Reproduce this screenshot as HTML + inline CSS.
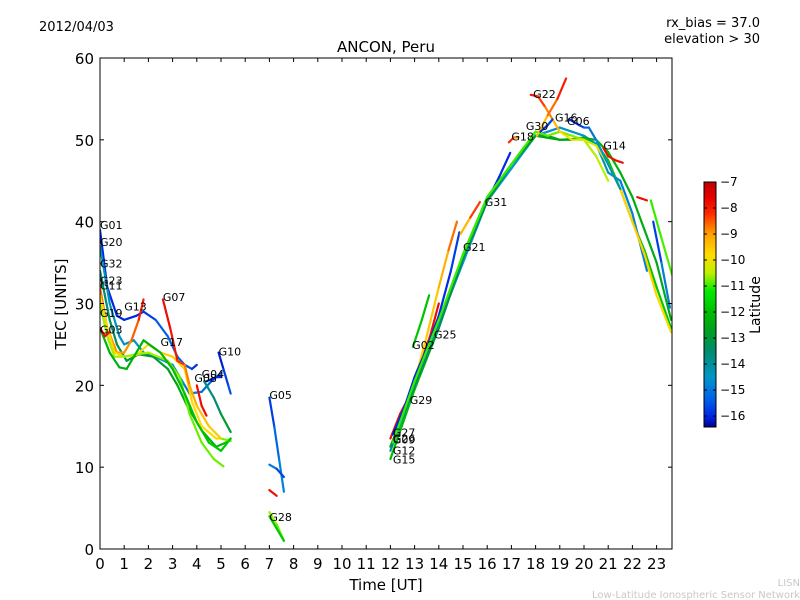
<!DOCTYPE html>
<html><head><meta charset="utf-8"><style>
body{margin:0;background:#fff;}
svg{display:block;font-family:"DejaVu Sans","Liberation Sans",sans-serif;}
</style></head><body>
<svg id="chart" width="800" height="600" viewBox="0 0 800 600">
<rect width="800" height="600" fill="#fff"/>
<text x="39" y="31" font-size="13">2012/04/03</text>
<text x="760" y="27" font-size="13" text-anchor="end">rx_bias = 37.0</text>
<text x="760" y="43" font-size="13" text-anchor="end">elevation &gt; 30</text>
<text x="386" y="52" font-size="15" text-anchor="middle">ANCON, Peru</text>
<text x="386" y="590" font-size="15" text-anchor="middle">Time [UT]</text>
<text x="66" y="304" font-size="15" text-anchor="middle" transform="rotate(-90 66 304)">TEC [UNITS]</text>
<text x="800" y="586" font-size="10" fill="#c8c8c8" text-anchor="end">LISN</text>
<text x="800" y="598" font-size="10" fill="#c8c8c8" text-anchor="end">Low-Latitude Ionospheric Sensor Network</text>
<g id="plot"></g>
<g id="axes"></g>
<g id="cbar"></g>
</svg>
<script>
const xTicks=[0,1,2,3,4,5,6,7,8,9,10,11,12,13,14,15,16,17,18,19,20,21,22,23];
const yTicks=[0,10,20,30,40,50,60];
const cbTicks=[-7,-8,-9,-10,-11,-12,-13,-14,-15,-16];
const trackNames=["G01","G20","G32","G23","G11","G19","G03","G03b","G07","G10","G04","G04b","G08","G05","G05b","G05c","G28","G28b",
"G02","G29","G27","G09","G26","G12","G15","G25","G21","G31","G18","G22","G30","G16","G06","G14","G14b","G-r1","G-r2"];
const trackTimes=[
[0,0.3,0.7,1,1.5,1.8,2.3,2.8,3.2,3.5,3.8,4],
[0,0.4,0.8,1,1.4,1.8,2.5,3,3.5,3.7,4.2,4.6,5],
[0,0.4,0.7,1.1,1.6,2.2,2.8,3.2,3.6,4.2,4.8,5.2,5.4],
[0,0.3,0.7,1,1.3,1.6,1.8],
[0,0.3,0.6,1,1.5,2,2.5,3,3.5,3.8,4.2,4.8,5,5.4],
[0,0.3,0.6,1,1.5,2,2.8,3.3,3.7,4.2,4.7,5.1],
[0,0.4,0.8,1.1,1.4,1.8,2.5,3,3.5,4,4.5,5,5.4],
[0,0.2,0.4],
[2.6,2.9,3.2,3.5,3.7,4,4.5,5],
[4.9,5.1,5.3,5.4],
[4.4,4.8,5],
[4.3,4.7,5,5.4],
[4,4.2,4.4],
[7,7.2,7.4,7.6],
[7,7.3,7.6],
[7,7.3],
[7,7.3,7.6],
[7,7.3,7.6],
[12.93,13.3,13.6],
[12,12.4,12.7,13,13.4,13.64,14.0],
[12,12.5,13,13.5,14,14.4,14.75],
[12.1,12.6,13,13.5,14,14.5,14.85],
[14.9,15.3,15.7],
[12,13,14,15,16,17,17.5,18,18.5,19,19.5,20,20.5,21,21.5,22,22.5,23,23.6],
[12,13,14,15,16,17,18,18.5,19,19.5,20,20.5,21,21.5,22,22.6],
[15.5,16,16.5,16.95],
[12,13,14,15,16,17,18,19,20,20.5,21,21.5,22,22.5,23,23.6],
[12.1,13,14,15,16,17,18,18.5,19,19.5,20,20.5,21],
[16.9,17.1,17.3],
[17.8,18.1,18.4,18.7,19,19.5,20,20.5,21,21.5,22,22.5,23,23.6],
[18.06,18.5,18.9,19.26],
[18.2,18.5,18.7],
[19.4,19.8,20,20.2,20.5,21,21.5],
[20.8,21,21.3,21.6],
[22.2,22.4,22.6],
[22.76,23.2,23.64],
[22.86,23.2,23.55]
];
const trackTec=[
[39,32,28.5,28,28.5,29,28,26,23.5,22.5,22,22.5],
[37,30,26,25,25.5,24,23.2,22.5,20,19,19.2,20.5,21.5],
[34,28,25,23,23.8,23.5,22,20,17.5,14.5,12.5,13,13.5],
[32,27,24,24,25.5,28,30.5],
[31,27,24,23.5,23.7,25,24,23.5,22,18,15,13.5,13.5,13.2],
[30,26,23.5,23.5,23.8,24,23,21,16.5,13,11,10.1],
[27,24,22.2,22,23.5,25.5,24,22,19,15.5,13,12,13.5],
[27,26,26.5],
[30.5,27,23,22.5,20,17.5,15,13.5],
[24,22,20,19],
[20.5,21,21],
[20.5,18.5,16.5,14.3],
[20,17.5,16.3],
[18.5,15,11,7],
[10.3,9.8,8.8],
[7.2,6.5],
[4.5,3,1],
[4,2.5,1],
[24.7,28,31],
[13.5,16.5,18.2,21,24,26,30],
[12.5,16,20.5,26,32,36.5,40],
[14,17.5,21,24.5,28.5,34,38.7],
[38.5,40.5,42.4],
[11,19.5,27,36,43,47,49,50.5,50.5,50,50,50.3,49.5,47.5,44,40,36.5,32,27],
[12,20,27.5,35,42.5,46.5,50.5,51,51.5,51,50.5,49.5,46,45,41,34],
[39,42.5,45.5,48.4],
[12.5,20,27,35.5,42.5,47,50.5,50,50.2,50,48.5,46,43,39,35,28],
[13,20.5,28,36,43,47,51,50.5,51,50.5,50,48,45],
[49.7,50.3,50.3],
[55.5,55.3,54,52.5,51,50,50,49.3,47,44,40,36,31,26.5],
[50.5,53,55,57.5],
[51,51.8,52.5],
[52.5,51.8,51.5,51.5,50,47,44],
[49,48,47.5,47.2],
[43,42.8,42.6],
[42.6,38,33.5],
[40,35,29.5]
];
const trackLat=[
[-16,-16,-16,-16,-16,-16,-15.5,-15.3,-15.2,-15.3,-15.8,-16],
[-14.3,-14.3,-14.3,-14.3,-14.3,-14.5,-14.5,-14.5,-14.8,-15,-15,-15.3,-15.8],
[-13.5,-13.5,-13.2,-13,-12.8,-12.8,-12.8,-12.5,-12.5,-12.3,-12.2,-12,-11.8],
[-8.6,-8.8,-9,-9,-8.8,-8.3,-7.8],
[-9.8,-9.8,-9.8,-9.8,-9.8,-9.8,-9.6,-9.6,-9.6,-9.8,-9.8,-9.8,-10.5,-11],
[-10.6,-10.6,-10.6,-10.6,-10.6,-10.6,-10.6,-10.8,-10.8,-10.8,-10.8,-10.8],
[-12.3,-12.3,-12.3,-12.3,-12.3,-12.3,-12.2,-12,-12,-12,-11.8,-11.8,-11.8],
[-7.8,-7.8,-7.8],
[-7.8,-7.8,-8,-8.5,-9,-9.3,-9.5,-9.6],
[-16.2,-16,-15.6,-15.4],
[-16,-16,-16],
[-13.8,-13.6,-13.2,-12.5],
[-7.8,-7.8,-7.8],
[-16,-15.5,-15,-14.6],
[-14.7,-15.3,-16],
[-7.8,-7.8],
[-10.5,-10.7,-10.9],
[-11.8,-11.8,-11.8],
[-11.8,-11.9,-12],
[-7.8,-7.8,-7.8,-7.9,-8,-7.8,-7.8],
[-10,-10,-9.8,-9.6,-9.5,-9,-8.3],
[-16,-16,-16,-16,-16,-16,-15.5],
[-9.8,-8.8,-7.8],
[-12,-12.2,-12.3,-12.4,-12.5,-12.5,-12.5,-12.5,-12.4,-12.3,-12.2,-12,-11.8,-11.8,-11.8,-11.8,-11.8,-11.8,-11.8],
[-14,-14,-14.2,-14.3,-14.5,-14.5,-14.5,-14.7,-14.5,-14.4,-14.3,-14.3,-14.5,-14.8,-15,-14.7],
[-16,-16,-16,-16],
[-13,-13.2,-13.3,-13.3,-13.2,-12.8,-12.5,-12.6,-12.5,-12.4,-12.3,-12.3,-12.4,-12.4,-12.5,-12.5],
[-11,-11,-11,-11,-11,-11,-11,-10.8,-10.8,-10.8,-10.6,-10.5,-10.5],
[-7.8,-8.5,-9],
[-7.8,-8,-8.6,-9,-9.6,-10,-10.3,-10.2,-10,-9.8,-9.6,-9.6,-9.7,-9.8],
[-9.8,-9,-8.3,-7.8],
[-16,-15.8,-15.5],
[-16,-16,-15.5,-15.3,-14.8,-14.3,-14],
[-7.8,-7.8,-7.8,-7.8],
[-7.8,-7.8,-7.8],
[-11,-11,-10.8],
[-16,-15.5,-14.3]
];
const labelNames=["G01","G20","G32","G23","G11","G19","G03","G13","G07","G17","G10","G08","G04","G05","G28","G02","G29","G27","G09","G26","G12","G15","G25","G21","G31","G18","G22","G30","G16","G06","G14"];
const labelT=[0,0,0,0,0,0,0,1.0,2.6,2.5,4.9,3.9,4.2,7.0,7.0,12.9,12.8,12.1,12.1,12.1,12.1,12.1,13.8,15.0,15.9,17.0,17.9,17.6,18.8,19.3,20.8];
const labelTec=[39,36.9,34.3,32.2,31.6,28.2,26.2,29,30.2,24.7,23.5,20.3,20.8,18.2,3.3,24.3,17.6,13.6,12.8,12.9,11.4,10.3,25.6,36.3,41.8,49.8,55,51.1,52.1,51.7,48.7];

const X0=100,X1=672,Y0=549,Y1=58;
const xs=t=>X0+t*24.2;
const ys=v=>Y0-v*(Y0-Y1)/60;
const VMIN=-16.42,VMAX=-7;
const cmapStops=[[-16.42,[0,0,140]],[-16,[0,40,230]],[-15.3,[0,100,230]],[-14.5,[0,150,200]],[-13.5,[0,140,110]],[-12.7,[0,160,30]],[-12,[0,190,0]],[-11.2,[0,235,0]],[-10.5,[190,240,0]],[-9.8,[255,220,0]],[-9,[255,160,0]],[-8.2,[255,40,0]],[-7.6,[230,0,0]],[-7,[190,0,0]]];
function jet(lat){lat=Math.max(VMIN,Math.min(VMAX,lat));
 for(let i=0;i<cmapStops.length-1;i++){const a=cmapStops[i],b=cmapStops[i+1];
  if(lat<=b[0]){const f=(lat-a[0])/(b[0]-a[0]);const c=a[1].map((v,k)=>Math.round(v+(b[1][k]-v)*f));return `rgb(${c[0]},${c[1]},${c[2]})`;}}
 return 'rgb(190,0,0)';}
const NS="http://www.w3.org/2000/svg";
function mk(tag,attrs,parent){const e=document.createElementNS(NS,tag);for(const k in attrs)e.setAttribute(k,attrs[k]);parent.appendChild(e);return e;}
const plot=document.getElementById('plot');
const clip=mk('clipPath',{id:'pc'},plot);mk('rect',{x:X0,y:Y1,width:X1-X0,height:Y0-Y1},clip);
const lines=mk('g',{'clip-path':'url(#pc)'},plot);
trackTimes.forEach((tt,i)=>{
 const g=mk('g',{},lines);
 
 
 for(let j=0;j<tt.length-1;j++){
  const seg=mk('line',{x1:xs(tt[j]),y1:ys(trackTec[i][j]),x2:xs(tt[j+1]),y2:ys(trackTec[i][j+1]),stroke:jet((trackLat[i][j]+trackLat[i][j+1])/2),'stroke-width':2.2,'stroke-linecap':'round'},g);
  
  
 }
});
labelNames.forEach((n,i)=>{
 const t=mk('text',{x:xs(labelT[i]),y:ys(labelTec[i])-1,'font-size':11},plot);
 t.textContent=n;
 
 
});
const ax=document.getElementById('axes');
const frame=mk('rect',{x:X0,y:Y1,width:X1-X0,height:Y0-Y1,fill:'none',stroke:'#000','stroke-width':1},ax);


xTicks.forEach(v=>{const x=xs(v);
 mk('line',{x1:x,y1:Y0,x2:x,y2:Y0-4,stroke:'#000'},ax);mk('line',{x1:x,y1:Y1,x2:x,y2:Y1+4,stroke:'#000'},ax);
 const t=mk('text',{x:x,y:Y0+20,'font-size':15,'text-anchor':'middle'},ax);t.textContent=v;
 
 });
yTicks.forEach(v=>{const y=ys(v);
 mk('line',{x1:X0,y1:y,x2:X0+4,y2:y,stroke:'#000'},ax);mk('line',{x1:X1,y1:y,x2:X1-4,y2:y,stroke:'#000'},ax);
 const t=mk('text',{x:X0-6,y:y+6,'font-size':15,'text-anchor':'end'},ax);t.textContent=v;
 
 });
const cb=document.getElementById('cbar');
const CX=704,CW=12,CT=182,CB=427;
const cy=l=>CT+(VMAX-l)*(CB-CT)/(VMAX-VMIN);
const cbg=mk('g',{},cb);


for(let y=CT;y<CB;y++){const l=VMAX-(y+0.5-CT)*(VMAX-VMIN)/(CB-CT);mk('rect',{x:CX,y:y,width:CW,height:1.2,fill:jet(l)},cbg);}
mk('rect',{x:CX,y:CT,width:CW,height:CB-CT,fill:'none',stroke:'#000'},cbg);
cbTicks.forEach(v=>{const y=cy(v);
 mk('line',{x1:CX,y1:y,x2:CX+3,y2:y,stroke:'#000'},cbg);mk('line',{x1:CX+CW,y1:y,x2:CX+CW-3,y2:y,stroke:'#000'},cbg);
 const t=mk('text',{x:CX+CW+4,y:y+4,'font-size':12},cbg);t.textContent='\u2212'+Math.abs(v);
 
 });
const cl=mk('text',{x:760,y:305,'font-size':14,'text-anchor':'middle',transform:'rotate(-90 760 305)'},cb);
cl.textContent='Latitude';


</script>
</body></html>
